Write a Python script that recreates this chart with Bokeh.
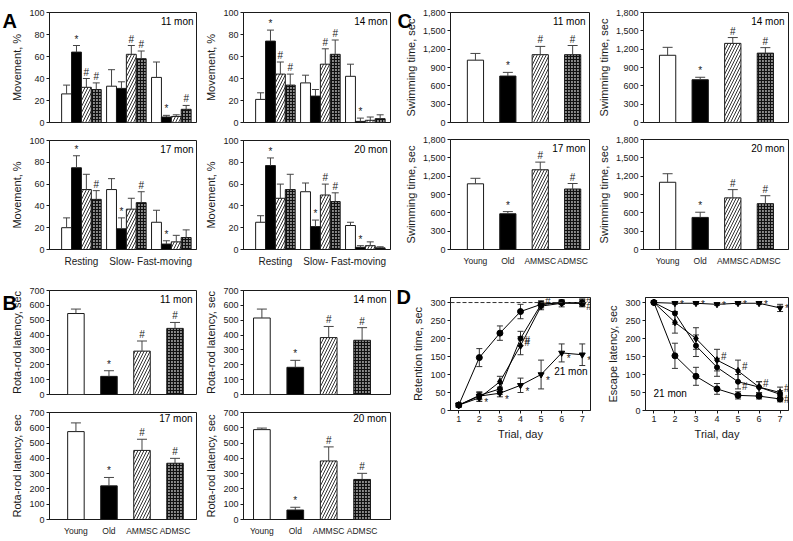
from bokeh.plotting import figure
from bokeh.layouts import row, column
from bokeh.models import (Range1d, FixedTicker, Whisker, TeeHead, ColumnDataSource,
                          Label, Span, NumeralTickFormatter)
from bokeh.core.properties import value
from bokeh.embed import file_html
from bokeh.resources import INLINE

FONT = "Liberation Sans"
INK = "#1a1a1a"

groups = ["Young", "Old", "AMMSC", "ADMSC"]
movement_types = ["Resting", "Slow-", "Fast-moving"]
panel_letters = ["A", "B", "C", "D"]

# ---------------- Panel A: movement, % (rows = groups; cols = Resting, Slow-, Fast-moving)
a11_mean = [[26, 33, 41], [64, 31, 5], [32, 62, 5.5], [30, 58, 12]]
a11_err = [[8, 15, 14], [6, 6, 1.5], [8, 8, 1.5], [6, 7, 3.5]]
a11_mark = [["", "", ""], ["*", "", "*"], ["#", "#", ""], ["#", "#", "#"]]
a14_mean = [[21, 36, 42], [74, 24, 1], [44, 53, 2], [34, 62, 3.5]]
a14_err = [[6, 7, 11], [10, 6, 3], [11, 14, 3], [10, 13, 3.5]]
a14_mark = [["", "", ""], ["*", "", "*"], ["#", "#", ""], ["#", "#", ""]]
a17_mean = [[20, 55, 25], [75, 19, 5], [55, 37, 7], [46, 43, 11]]
a17_err = [[9, 10, 11], [11, 10, 3], [14, 10, 6], [8, 10, 7]]
a17_mark = [["", "", ""], ["*", "*", "*"], ["", "", ""], ["#", "#", ""]]
a20_mean = [[25, 53, 22], [77, 21, 2], [47, 50, 3.5], [55, 44, 1.5]]
a20_err = [[6, 8, 3], [7, 6, 1.5], [13, 10, 3.5], [14, 8, 1]]
a20_mark = [["", "", ""], ["*", "*", "*"], ["", "#", ""], ["", "#", ""]]

# ---------------- Panel B: rota-rod latency, sec (Young, Old, AMMSC, ADMSC)
b11_mean = [545, 122, 292, 445]
b11_err = [30, 38, 68, 40]
b11_mark = ["", "*", "#", "#"]
b14_mean = [515, 183, 383, 365]
b14_err = [60, 47, 75, 85]
b14_mark = ["", "*", "#", "#"]
b17_mean = [575, 220, 452, 368]
b17_err = [57, 55, 73, 32]
b17_mark = ["", "*", "#", "#"]
b20_mean = [588, 62, 383, 262]
b20_err = [10, 18, 92, 40]
b20_mark = ["", "*", "#", "#"]

# ---------------- Panel C: swimming time, sec
c11_mean = [1020, 760, 1110, 1110]
c11_err = [110, 60, 135, 150]
c11_mark = ["", "*", "#", "#"]
c14_mean = [1100, 700, 1295, 1135]
c14_err = [130, 40, 95, 90]
c14_mark = ["", "*", "#", "#"]
c17_mean = [1075, 585, 1305, 990]
c17_err = [90, 35, 125, 90]
c17_mark = ["", "*", "#", "#"]
c20_mean = [1100, 525, 845, 750]
c20_err = [140, 85, 135, 130]
c20_mark = ["", "*", "#", "#"]

# ---------------- Panel D: 21 mon, trial days
days = [1, 2, 3, 4, 5, 6, 7]
ret_young = [15, 147, 215, 275, 295, 300, 298]
ret_young_err = [5, 25, 20, 20, 8, 5, 8]
ret_old = [15, 40, 48, 70, 100, 160, 155]
ret_old_err = [5, 10, 10, 20, 40, 25, 30]
ret_old_mark = ["", "*", "*", "*", "*", "*", "*"]
ret_am = [15, 35, 80, 180, 290, 298, 298]
ret_am_err = [5, 10, 15, 25, 10, 10, 10]
ret_am_mark = ["", "", "", "#", "#", "", "#"]
ret_ad = [15, 42, 60, 200, 295, 300, 300]
ret_ad_err = [5, 10, 15, 20, 10, 5, 10]
ret_ad_mark = ["", "", "", "#", "", "", "#"]
esc_young = [300, 152, 95, 60, 42, 40, 32]
esc_young_err = [0, 35, 25, 15, 10, 8, 8]
esc_old = [300, 298, 298, 295, 298, 298, 285]
esc_old_err = [3, 3, 3, 3, 3, 3, 10]
esc_old_mark = ["", "*", "*", "*", "*", "*", "*"]
esc_am = [300, 245, 200, 140, 110, 65, 50]
esc_am_err = [0, 30, 30, 30, 30, 15, 15]
esc_am_mark = ["", "", "", "#", "#", "#", "#"]
esc_ad = [300, 270, 180, 120, 80, 65, 45]
esc_ad_err = [0, 30, 30, 25, 20, 15, 10]
esc_ad_mark = ["", "", "", "", "#", "", "#"]

GROUP_STYLE = [
    dict(fill_color="white"),
    dict(fill_color="black"),
    dict(fill_color="white", hatch_pattern="/", hatch_color="#333333", hatch_scale=6, hatch_weight=1.0),
    dict(fill_color="#8a8a8a", hatch_pattern="+", hatch_color="#111111", hatch_scale=3, hatch_weight=1.2),
]


def base_fig(w, h, bl, br, bt, bb, xr, yr):
    p = figure(width=w, height=h, x_range=Range1d(*xr), y_range=Range1d(*yr),
               output_backend="svg", toolbar_location=None,
               min_border_left=bl, min_border_right=br, min_border_top=bt, min_border_bottom=bb)
    p.outline_line_color = INK
    p.outline_line_alpha = 1.0
    p.outline_line_width = 1
    p.grid.visible = False
    p.background_fill_color = "white"
    p.border_fill_color = "white"
    return p


def style_y(p, ticks, label, fmt=None):
    ax = p.yaxis[0]
    ax.ticker = FixedTicker(ticks=ticks)
    ax.axis_label = label
    ax.axis_label_text_font = FONT
    ax.axis_label_text_font_size = "11px"
    ax.axis_label_text_font_style = "normal"
    ax.axis_label_text_color = INK
    ax.axis_label_standoff = 3
    ax.major_label_text_font = FONT
    ax.major_label_text_font_size = "9px"
    ax.major_label_text_color = INK
    ax.major_label_standoff = 2
    ax.major_tick_in = 0
    ax.major_tick_out = 3
    ax.minor_tick_in = 0
    ax.minor_tick_out = 0
    ax.axis_line_color = INK
    ax.major_tick_line_color = INK
    if fmt:
        ax.formatter = NumeralTickFormatter(format=fmt)


def style_x(p, ticks, labels, xlabel=None, tick_out=0, label_size="10px"):
    ax = p.xaxis[0]
    if labels is None and xlabel is None:
        ax.visible = False
        return
    ax.ticker = FixedTicker(ticks=ticks)
    if labels is not None:
        ax.major_label_overrides = {t: l for t, l in zip(ticks, labels)}
        ax.major_label_text_font_size = label_size
        ax.major_label_standoff = 6
    else:
        ax.major_label_text_font_size = "9px"
        ax.major_label_standoff = 2
    ax.major_label_text_font = FONT
    ax.major_label_text_color = INK
    ax.major_tick_in = 0
    ax.major_tick_out = tick_out
    ax.minor_tick_in = 0
    ax.minor_tick_out = 0
    ax.axis_line_color = INK
    ax.major_tick_line_color = INK
    if xlabel:
        ax.axis_label = xlabel
        ax.axis_label_text_font = FONT
        ax.axis_label_text_font_size = "11px"
        ax.axis_label_text_font_style = "normal"
        ax.axis_label_text_color = INK
        ax.axis_label_standoff = 3


def add_bars(p, xs, means, errs, marks, width, style, head):
    ups = [m + e for m, e in zip(means, errs)]
    src = ColumnDataSource(dict(x=xs, top=list(means), up=ups, m=list(marks)))
    p.vbar(x="x", top="top", bottom=0, width=width, source=src, line_color=INK, line_width=1, **style)
    p.add_layout(Whisker(source=src, base="x", lower="top", upper="up", dimension="height",
                         line_color="#444444", line_width=1,
                         upper_head=TeeHead(size=head, line_color="#444444", line_width=1),
                         lower_head=None, level="overlay"))
    p.text(x="x", y="up", text="m", source=src, text_font=value(FONT), text_font_size="10px",
           text_align="center", text_baseline="bottom", y_offset=-1, text_color=INK)


def tag(p, text, x, y, size="10px", align="right"):
    p.add_layout(Label(x=x, y=y, x_units="screen", y_units="screen", text=text,
                       text_font=FONT, text_font_size=size, text_align=align, text_color="black"))


# ---------- Panel A figures
A_XR = (0.29, 3.56)
A_OFF = [-0.33, -0.11, 0.11, 0.33]
A_TICKS = [1, 1.9, 2.85]


def a_fig(w, h, bl, br, bt, bb, mean, err, mark, mon, bottom):
    p = base_fig(w, h, bl, br, bt, bb, A_XR, (0, 100))
    style_y(p, [0, 20, 40, 60, 80, 100], "Movement, %")
    style_x(p, A_TICKS, movement_types if bottom else None, label_size="10px")
    for gi in range(4):
        xs = [c + A_OFF[gi] for c in (1, 2, 3)]
        add_bars(p, xs, mean[gi], err[gi], mark[gi], 0.22, GROUP_STYLE[gi], 7)
    fw = w - bl - br
    fh = h - bt - bb
    tag(p, mon, fw - 3, fh - 14)
    return p


a11 = a_fig(197, 135, 49, 1, 12, 13, a11_mean, a11_err, a11_mark, "11 mon", False)
a14 = a_fig(197, 135, 46, 4, 12, 13, a14_mean, a14_err, a14_mark, "14 mon", False)
a17 = a_fig(197, 145, 49, 1, 5, 31, a17_mean, a17_err, a17_mark, "17 mon", True)
a20 = a_fig(197, 145, 46, 4, 5, 31, a20_mean, a20_err, a20_mark, "20 mon", True)

B_XR = (0.2, 4.65)
B_XR2 = (0.45, 4.85)
B_TICKS = [0, 100, 200, 300, 400, 500, 600, 700]
C_XR = (0.23, 4.52)
C_XR2 = (0.26, 4.71)
C_TICKS = [0, 300, 600, 900, 1200, 1500, 1800]


def g_fig(w, h, bl, br, bt, bb, xr, yr, ticks, ylabel, fmt, mean, err, mark, mon, bottom):
    p = base_fig(w, h, bl, br, bt, bb, xr, yr)
    style_y(p, ticks, ylabel, fmt)
    style_x(p, [1, 2, 3, 4], groups if bottom else None, label_size="8.5px")
    for gi in range(4):
        add_bars(p, [gi + 1], [mean[gi]], [err[gi]], [mark[gi]], 0.5, GROUP_STYLE[gi], 10)
    fw = w - bl - br
    fh = h - bt - bb
    tag(p, mon, fw - 4, fh - 14)
    return p


b11 = g_fig(197, 123, 49, 1, 10, 9, B_XR, (0, 700), B_TICKS, "Rota-rod latency, sec", None,
            b11_mean, b11_err, b11_mark, "11 mon", False)
b14 = g_fig(197, 123, 46, 4, 10, 9, B_XR2, (0, 700), B_TICKS, "Rota-rod latency, sec", None,
            b14_mean, b14_err, b14_mark, "14 mon", False)
b17 = g_fig(197, 135, 49, 1, 9, 16, B_XR, (0, 700), B_TICKS, "Rota-rod latency, sec", None,
            b17_mean, b17_err, b17_mark, "17 mon", True)
b20 = g_fig(197, 135, 46, 4, 9, 16, B_XR2, (0, 700), B_TICKS, "Rota-rod latency, sec", None,
            b20_mean, b20_err, b20_mark, "20 mon", True)

c11 = g_fig(197, 135, 56, 2, 12, 13, C_XR, (0, 1800), C_TICKS, "Swimming time, sec", "0,0",
            c11_mean, c11_err, c11_mark, "11 mon", False)
c14 = g_fig(199, 135, 52, 2, 12, 13, C_XR2, (0, 1800), C_TICKS, "Swimming time, sec", "0,0",
            c14_mean, c14_err, c14_mark, "14 mon", False)
c17 = g_fig(197, 145, 56, 2, 4, 31, C_XR, (0, 1800), C_TICKS, "Swimming time, sec", "0,0",
            c17_mean, c17_err, c17_mark, "17 mon", True)
c20 = g_fig(199, 145, 52, 2, 4, 31, C_XR2, (0, 1800), C_TICKS, "Swimming time, sec", "0,0",
            c20_mean, c20_err, c20_mark, "20 mon", True)


# ---------- Panel D
def d_series(p, ys, es, marks, marker, size, mdx, mdy):
    lo = [y - e for y, e in zip(ys, es)]
    hi = [y + e for y, e in zip(ys, es)]
    src = ColumnDataSource(dict(x=days, y=ys, lo=lo, hi=hi, m=marks))
    p.add_layout(Whisker(source=src, base="x", lower="lo", upper="hi", dimension="height",
                         line_color="#333333", line_width=1,
                         upper_head=TeeHead(size=6, line_color="#333333", line_width=1),
                         lower_head=TeeHead(size=6, line_color="#333333", line_width=1)))
    p.line(x="x", y="y", source=src, line_color="black", line_width=1)
    p.scatter(x="x", y="y", source=src, marker=marker, size=size, fill_color="black", line_color="black")
    p.text(x="x", y="y", text="m", source=src, text_font=value(FONT), text_font_size="10px",
           text_align="left", text_baseline="middle", x_offset=mdx, y_offset=mdy, text_color=INK)


def d_fig(w, h, bl, br, bt, bb, ylabel, series):
    p = base_fig(w, h, bl, br, bt, bb, (0.6, 7.4), (0, 314))
    style_y(p, [0, 50, 100, 150, 200, 250, 300], ylabel)
    style_x(p, days, None, xlabel="Trial, day", tick_out=3)
    for ys, es, ms, mk, sz, dx, dy in series:
        d_series(p, ys, es, ms, mk, sz, dx, dy)
    return p


dl = d_fig(197, 258, 56, 1, 17, 128, "Retention time, sec",
           [(ret_old, ret_old_err, ret_old_mark, "inverted_triangle", 6, 5, 6),
            (ret_am, ret_am_err, ret_am_mark, "diamond", 7, 4, -5),
            (ret_ad, ret_ad_err, ret_ad_mark, "circle", 5, 4, 4),
            (ret_young, ret_young_err, ["", "", "", "", "", "", ""], "circle", 6, 0, 0)])
dl.add_layout(Span(location=300, dimension="width", line_color="#333333", line_width=1, line_dash="4 2"))
tag(dl, "21 mon", 137, 34)

dr = d_fig(199, 258, 54, 2, 17, 128, "Escape latency, sec",
           [(esc_old, esc_old_err, esc_old_mark, "inverted_triangle", 6, 5, 1),
            (esc_am, esc_am_err, esc_am_mark, "diamond", 7, 4, -4),
            (esc_ad, esc_ad_err, esc_ad_mark, "circle", 5, 4, 5),
            (esc_young, esc_young_err, ["", "", "", "", "", "", ""], "circle", 6, 0, 0)])
tag(dr, "21 mon", 8, 12, align="left")

left = column(row(a11, a14), row(a17, a20), row(b11, b14), row(b17, b20))
right = column(row(c11, c14), row(c17, c20), row(dl, dr))
main = row(left, right, margin=(0, 0, -538, 0))

# transparent overlay carrying the panel letters (page pixel coordinates)
letters = figure(width=790, height=538, x_range=Range1d(0, 790), y_range=Range1d(538, 0),
                 output_backend="svg", toolbar_location=None, min_border=0,
                 min_border_left=0, min_border_right=0, min_border_top=0, min_border_bottom=0)
letters.axis.visible = False
letters.grid.visible = False
letters.outline_line_color = None
letters.background_fill_alpha = 0
letters.border_fill_alpha = 0
letters.text(x=[2, 2, 397, 396], y=[20, 302, 20, 296], text=panel_letters,
             text_font=value(FONT), text_font_size="20px", text_font_style="bold",
             text_baseline="alphabetic", text_color="black")

page = column(main, letters)

open("out.html", "w").write(file_html(page, INLINE))
